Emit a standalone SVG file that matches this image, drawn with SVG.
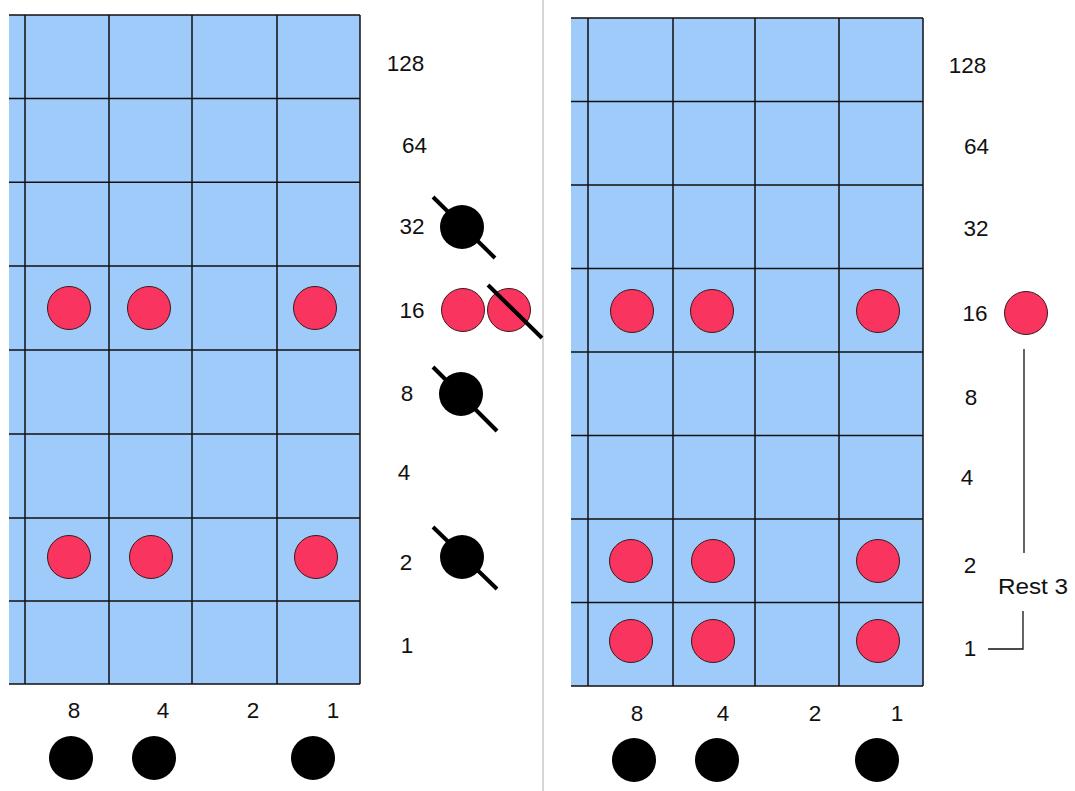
<svg xmlns="http://www.w3.org/2000/svg" width="1075" height="791" viewBox="0 0 1075 791">
<style>
.cell{fill:#9ecbfa;stroke:none}
.gl{stroke:#111;stroke-width:1.5;fill:none}
.red{fill:#f8345f;stroke:#3a1a1a;stroke-width:1}
.blk{fill:#000}
.strike{stroke:#000;stroke-width:4;stroke-linecap:butt}
.lbl{font-family:"Liberation Sans",Arial,sans-serif;font-size:22.5px;fill:#111;text-anchor:middle}
.thin{stroke:#111;stroke-width:1.3;fill:none}
</style>
<rect x="0" y="0" width="1075" height="791" fill="#fff"/>
<line x1="543" y1="0" x2="543" y2="791" stroke="#c8c8c8" stroke-width="1.5"/>

<g id="left-grid">
<rect class="cell" x="9" y="15" width="351" height="669"/>
<path class="gl" d="M9 15H360M9 98.6H360M9 182.2H360M9 266H360M9 350H360M9 434H360M9 518H360M9 601H360M9 684H360M25 15V684M109 15V684M192 15V684M277 15V684M360 15V684"/>
</g>
<g id="left-dots">
<circle class="red" cx="69" cy="308" r="21.5"/>
<circle class="red" cx="149" cy="308" r="21.5"/>
<circle class="red" cx="315" cy="308" r="21.5"/>
<circle class="red" cx="69" cy="557" r="21.5"/>
<circle class="red" cx="151" cy="557" r="21.5"/>
<circle class="red" cx="316" cy="557" r="21.5"/>
</g>
<g id="left-row-labels">
<text class="lbl" x="405.5" y="71">128</text>
<text class="lbl" x="414.5" y="152.5">64</text>
<text class="lbl" x="412" y="234">32</text>
<text class="lbl" x="412" y="318">16</text>
<text class="lbl" x="407" y="401">8</text>
<text class="lbl" x="404" y="480">4</text>
<text class="lbl" x="406" y="570">2</text>
<text class="lbl" x="407" y="653">1</text>
</g>
<g id="left-struck">
<circle class="blk" cx="462" cy="227" r="22"/>
<line class="strike" x1="433" y1="197" x2="495" y2="258"/>
<circle class="red" cx="463" cy="310" r="21.5"/>
<circle class="red" cx="509" cy="310" r="21.5"/>
<line class="strike" x1="488" y1="285" x2="542" y2="338"/>
<circle class="blk" cx="461" cy="394" r="22"/>
<line class="strike" x1="433" y1="367" x2="497" y2="431"/>
<circle class="blk" cx="462" cy="557" r="22"/>
<line class="strike" x1="433" y1="527" x2="497" y2="589"/>
</g>
<g id="left-bottom">
<text class="lbl" x="74" y="718">8</text>
<text class="lbl" x="163" y="718">4</text>
<text class="lbl" x="253" y="718">2</text>
<text class="lbl" x="333" y="718">1</text>
<circle class="blk" cx="71" cy="758" r="22"/>
<circle class="blk" cx="154" cy="758" r="22"/>
<circle class="blk" cx="313" cy="758" r="22"/>
</g>

<g id="right-grid">
<rect class="cell" x="571" y="18" width="352" height="668"/>
<path class="gl" d="M571 18H923M571 101.5H923M571 185H923M571 268.5H923M571 352H923M571 435.5H923M571 519H923M571 602.5H923M571 686H923M588 18V686M673 18V686M755 18V686M839 18V686M923 18V686"/>
</g>
<g id="right-dots">
<circle class="red" cx="632" cy="311" r="21.5"/>
<circle class="red" cx="712" cy="311" r="21.5"/>
<circle class="red" cx="878" cy="311" r="21.5"/>
<circle class="red" cx="631" cy="561" r="21.5"/>
<circle class="red" cx="713" cy="561" r="21.5"/>
<circle class="red" cx="878" cy="561" r="21.5"/>
<circle class="red" cx="631" cy="641" r="21.5"/>
<circle class="red" cx="713" cy="641" r="21.5"/>
<circle class="red" cx="878" cy="641" r="21.5"/>
</g>
<g id="right-row-labels">
<text class="lbl" x="967.5" y="73">128</text>
<text class="lbl" x="976.5" y="153.5">64</text>
<text class="lbl" x="976" y="236">32</text>
<text class="lbl" x="975" y="321">16</text>
<text class="lbl" x="971" y="405">8</text>
<text class="lbl" x="967" y="485">4</text>
<text class="lbl" x="970" y="573">2</text>
<text class="lbl" x="970" y="656">1</text>
</g>
<g id="right-rest">
<circle class="red" cx="1026" cy="313" r="21.5"/>
<text class="lbl" transform="translate(1033,593.5) scale(1.08,1)">Rest 3</text>
</g>
<g id="connectors">
<line class="thin" x1="1024" y1="349" x2="1024" y2="553"/>
<path class="thin" d="M1023 611V649H988"/>
</g>
<g id="right-bottom">
<text class="lbl" x="637" y="721">8</text>
<text class="lbl" x="723" y="721">4</text>
<text class="lbl" x="815" y="721">2</text>
<text class="lbl" x="897" y="721">1</text>
<circle class="blk" cx="634" cy="760" r="22"/>
<circle class="blk" cx="717" cy="760" r="22"/>
<circle class="blk" cx="877" cy="760" r="22"/>
</g>
</svg>
